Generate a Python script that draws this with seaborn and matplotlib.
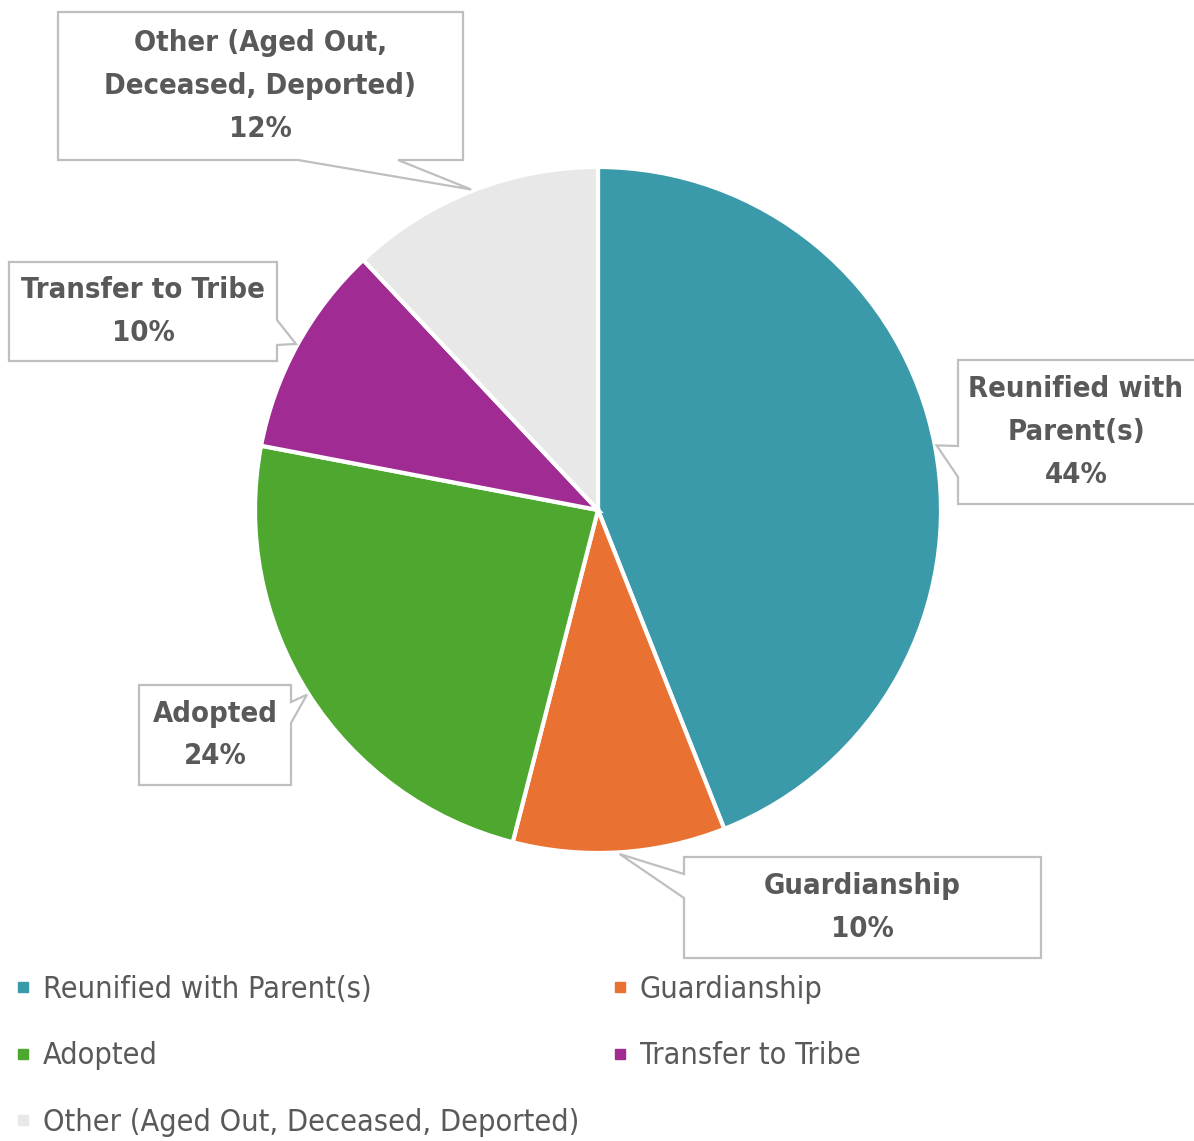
"""Pie chart of permanency outcomes with callout labels"""

import matplotlib.pyplot as plt
import numpy as np
import seaborn as sns  # type: ignore
from matplotlib.lines import Line2D
from matplotlib.patches import Polygon

categories = [
    "Reunified with Parent(s)",
    "Guardianship",
    "Adopted",
    "Transfer to Tribe",
    "Other (Aged Out, Deceased, Deported)",
]
shares = [44, 10, 24, 10, 12]
callout_texts = [
    "Reunified with\nParent(s)",
    "Guardianship",
    "Adopted",
    "Transfer to Tribe",
    "Other (Aged Out,\nDeceased, Deported)",
]
colors = ["#3A9AAA", "#E97132", "#4EA72E", "#A02B93", "#E8E8E8"]

# callout boxes in image pixels (x0, y0, x1, y1), notch side and its base span
callout_boxes = [
    ((958, 360, 1200, 504), "left", (446, 477)),
    ((684, 857, 1041, 958), "left", (874, 898)),
    ((139, 685, 291, 785), "right", (702, 723)),
    ((9, 262, 277, 361), "right", (320, 345)),
    ((58, 12, 463, 160), "bottom", (298, 398)),
]

W, H, DPI = 1194, 1141, 100
CX, CY, R = 598, 510, 343
TEXT_GRAY = "#595959"

sns.set_theme(style="white")
plt.rcParams["font.family"] = ["DejaVu Sans"]
plt.rcParams["font.stretch"] = "condensed"

fig = plt.figure(figsize=(W / DPI, H / DPI), dpi=DPI)
ax = fig.add_axes([(CX - R) / W, (H - CY - R) / H, 2 * R / W, 2 * R / H])
wedges, _ = ax.pie(
    shares,
    colors=colors,
    startangle=90,
    counterclock=False,
    radius=1,
    wedgeprops={"edgecolor": "white", "linewidth": 3},
)
ax.set_xlim(-1, 1)
ax.set_ylim(-1, 1)
ax.set_aspect("equal")
ax.axis("off")

# overlay in image pixel coordinates for the callouts
ov = fig.add_axes([0, 0, 1, 1])
ov.set_xlim(0, W)
ov.set_ylim(H, 0)
ov.axis("off")
ov.patch.set_alpha(0)


def callout_polygon(box, side, span, tip):
    x0, y0, x1, y1 = box
    b1, b2 = span
    pts = [(x0, y0), (x1, y0)]
    if side == "right":
        pts += [(x1, b1), tip, (x1, b2)]
    pts += [(x1, y1)]
    if side == "bottom":
        pts += [(b2, y1), tip, (b1, y1)]
    pts += [(x0, y1)]
    if side == "left":
        pts += [(x0, b2), tip, (x0, b1)]
    return pts


for wedge, text, share, (box, side, span) in zip(
    wedges, callout_texts, shares, callout_boxes
):
    mid = np.deg2rad((wedge.theta1 + wedge.theta2) / 2)
    disp = ax.transData.transform((1.005 * np.cos(mid), 1.005 * np.sin(mid)))
    tip = (disp[0], H - disp[1])
    ov.add_patch(
        Polygon(
            callout_polygon(box, side, span, tip),
            closed=True,
            facecolor="white",
            edgecolor="#BFBFBF",
            linewidth=1.6,
            clip_on=False,
        )
    )
    x0, y0, x1, y1 = box
    ov.text(
        (x0 + min(x1, W)) / 2,
        (y0 + y1) / 2,
        f"{text}\n{share}%",
        ha="center",
        va="center",
        fontsize=21,
        fontweight="bold",
        color=TEXT_GRAY,
        linespacing=1.68,
    )

# legend in two single-column blocks so rows line up as in the reference
legend_cols = [([0, 2, 4], 20), ([1, 3], 617)]
for idx, x_left in legend_cols:
    handles = [
        Line2D(
            [], [], marker="s", linestyle="none", markersize=7,
            markerfacecolor=colors[i], markeredgecolor=colors[i],
        )
        for i in idx
    ]
    fig.legend(
        handles,
        [categories[i] for i in idx],
        loc="upper left",
        bbox_to_anchor=(x_left / W - 0.004, 1 - 975 / H),
        frameon=False,
        fontsize=22,
        labelcolor=TEXT_GRAY,
        handlelength=0.5,
        handletextpad=0.4,
        labelspacing=1.22,
        borderaxespad=0.0,
        borderpad=0.0,
    )

fig.savefig("out.png", dpi=DPI)
plt.close(fig)
